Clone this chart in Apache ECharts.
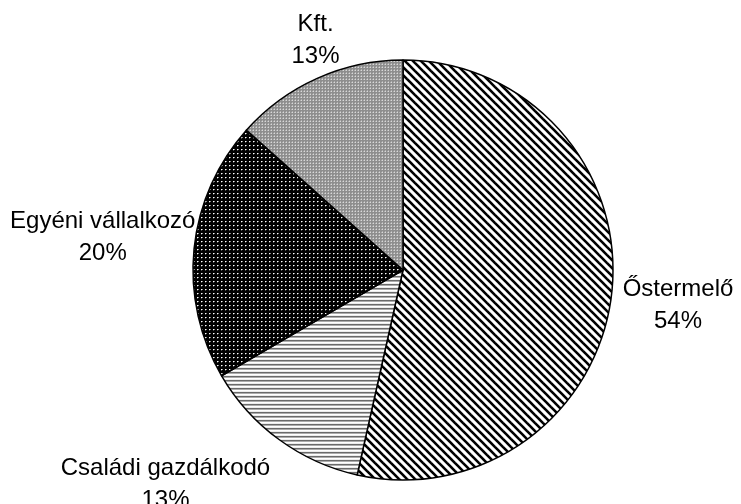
<!DOCTYPE html>
<html><head><meta charset="utf-8">
<script src="https://cdn.jsdelivr.net/npm/echarts@6/dist/echarts.min.js"></script>
<style>html,body{margin:0;padding:0;background:#fff}#c{width:741px;height:504px}</style>
</head><body><div id="c"></div>
<script>
const categories = ['Őstermelő', 'Családi gazdálkodó', 'Egyéni vállalkozó', 'Kft.'];
const values = [53.5, 13.1, 20.0, 13.4];

const CX = 403, CY = 270, R = 210, GAP = 6;

function makePattern(size, draw) {
  const c = document.createElement('canvas');
  c.width = size; c.height = size;
  const g = c.getContext('2d');
  draw(g, size);
  return c;
}
const patDiag = makePattern(8, (g, s) => {
  g.fillStyle = '#fff'; g.fillRect(0, 0, s, s);
  g.strokeStyle = '#000'; g.lineWidth = 2.6;
  for (let k = -s; k <= s; k += s) {
    g.beginPath(); g.moveTo(-3, -3 + k); g.lineTo(s + 3, s + 3 + k); g.stroke();
  }
});
const patHoriz = makePattern(4, (g, s) => {
  const rows = ['#6a6a6a', '#acacac', '#ffffff', '#ececec'];
  rows.forEach((col, r) => { g.fillStyle = col; g.fillRect(0, r, s, 1); });
});
const patDots = makePattern(4, (g, s) => {
  g.fillStyle = '#000'; g.fillRect(0, 0, s, s);
  g.fillStyle = '#ffffff'; g.fillRect(1, 1, 1, 1);
  g.fillStyle = '#8a8a8a'; g.fillRect(2, 1, 1, 1);
  g.fillStyle = '#4a4a4a'; g.fillRect(1, 2, 1, 1);
});
const patKft = makePattern(3, (g, s) => {
  g.fillStyle = '#8e8e8e'; g.fillRect(0, 0, s, s);
  g.fillStyle = '#d8d8d8'; g.fillRect(1, 1, 1, 1);
  g.fillStyle = '#b0b0b0'; g.fillRect(0, 1, 1, 1); g.fillRect(1, 0, 1, 1);
});
const patterns = [patDiag, patHoriz, patDots, patKft];

const total = values.reduce((a, b) => a + b, 0);

const chart = echarts.init(document.getElementById('c'), null, { renderer: 'canvas' });
chart.setOption({
  animation: false,
  backgroundColor: '#fff',
  series: [{
    type: 'pie',
    center: [CX, CY],
    radius: R,
    startAngle: 90,
    clockwise: true,
    avoidLabelOverlap: false,
    data: categories.map((n, i) => ({
      name: n, value: values[i],
      itemStyle: { color: { image: patterns[i], repeat: 'repeat' } }
    })),
    itemStyle: { borderColor: '#000', borderWidth: 1.5 },
    label: {
      show: true,
      position: 'outside',
      formatter: p => '{a|' + p.name + '}\n{a|' + Math.round(p.percent) + '%}',
      rich: {
        a: { fontFamily: 'Liberation Sans, Arial, sans-serif', fontSize: 24, lineHeight: 32, color: '#000', align: 'center' }
      }
    },
    labelLine: { show: false },
    emphasis: { disabled: true },
    labelLayout: function (p) {
      const i = p.dataIndex;
      let cum = 0;
      for (let j = 0; j < i; j++) cum += values[j];
      const mid = (cum + values[i] / 2) / total * 2 * Math.PI;
      const s = Math.sin(mid), c = Math.cos(mid);
      const hw = p.labelRect.width / 2, hh = p.labelRect.height / 2;
      let x = CX + (R + GAP) * s + hw * Math.sign(s) * Math.pow(Math.abs(s), 3) + 6 * Math.abs(s);
      let y = CY - (R + GAP) * c - (hh + 6) * Math.sign(c) * Math.sqrt(Math.abs(c));
      const dist = () => {
        const nx = Math.max(x - hw, Math.min(CX, x + hw));
        const ny = Math.max(y - hh, Math.min(CY, y + hh));
        return Math.hypot(nx - CX, ny - CY);
      };
      if (dist() < R - 8) {
        for (let k = 0; k < 300 && dist() < R + 18; k++) { x += Math.sign(s); y += 0.1; }
      }
      return { x: x, y: y, align: 'center', verticalAlign: 'middle' };
    }
  }]
});
</script></body></html>
